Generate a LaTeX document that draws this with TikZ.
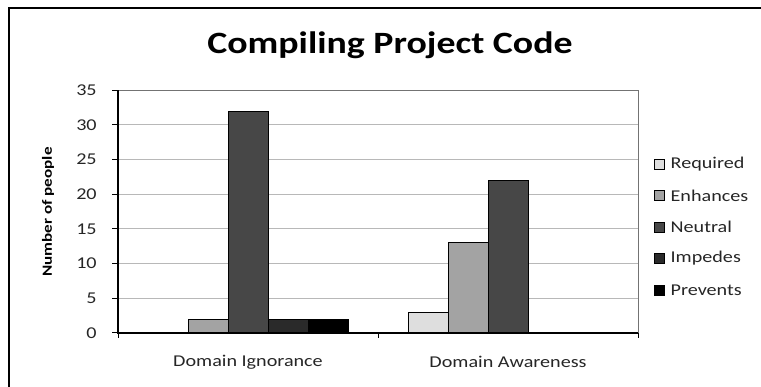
\documentclass[tikz,border=0pt]{standalone}
\usepackage{fontspec}
\setmainfont{Carlito}
\usetikzlibrary{positioning}

\definecolor{required}{HTML}{DEDEDE}
\definecolor{enhances}{HTML}{A3A3A3}
\definecolor{neutral}{HTML}{474747}
\definecolor{impedes}{HTML}{2A2A2A}
\definecolor{prevents}{HTML}{000000}

\tikzset{
  bar/.style={draw=black, line width=0.8pt},
  grid line/.style={draw=black!28, line width=0.9pt},
  legend key/.style={draw=black, line width=0.7pt, minimum size=10pt, inner sep=0pt},
  wide text/.style={xscale=1.22},
  tick label/.style={wide text, font=\fontsize{16.5}{19}\selectfont, text=black!85},
}

\begin{document}
\begin{tikzpicture}[x=1pt,y=-1pt]
\useasboundingbox (0,0) rectangle (761,387);

% outer frame
\draw[line width=2pt] (9,392) -- (9,8) -- (766,8);

\node[wide text, font=\bfseries\fontsize{31}{36}\selectfont] (title) at (390,45) {Compiling Project Code};
\node[rotate=90, wide text, font=\bfseries\fontsize{14}{16}\selectfont] (ylabel) at (48,212) {Number of people};

\begin{scope}[shift={(118,333)}, x=1pt, y=6.94pt]
% grid and plot area
\foreach \v in {5,10,...,30}
  \draw[grid line] (0,\v) -- (520,\v);
\draw[draw=black!55, line width=1pt] (0,35) -- (520,35) -- (520,0);

% Domain Ignorance
\draw[bar, fill=enhances] (70,0) rectangle (110,2);
\draw[bar, fill=neutral] (110,0) rectangle (150,32);
\draw[bar, fill=impedes] (150,0) rectangle (190,2);
\draw[bar, fill=prevents] (190,0) rectangle (230,2);

% Domain Awareness
\draw[bar, fill=required] (290,0) rectangle (330,3);
\draw[bar, fill=enhances] (330,0) rectangle (370,13);
\draw[bar, fill=neutral] (370,0) rectangle (410,22);

% axes
\draw[line width=1.1pt] (0,35) -- (0,0) -- (520,0);
\foreach \v in {0,5,...,35} {
  \draw[line width=1pt] (-6,\v) -- (0,\v);
  \node[tick label, anchor=east] (ytick-\v) at (-17,\v) {\v};
}
\foreach \x in {0,260,520}
  \draw[line width=1pt] (\x,0) -- ++(0pt,-5pt);

\node[tick label] (ignorance) at (130,-4.2) {Domain Ignorance};
\node[tick label] (awareness) at (390,-4.2) {Domain Awareness};
\end{scope}

% legend
\foreach \entry/\col [count=\i] in {Required/required, Enhances/enhances, Neutral/neutral, Impedes/impedes, Prevents/prevents} {
  \node[legend key, fill=\col] (key-\i) at (659,132.5+31.5*\i) {};
  \node[tick label, anchor=west, right=2pt of key-\i] (entry-\i) {\entry};
}
\end{tikzpicture}
\end{document}
